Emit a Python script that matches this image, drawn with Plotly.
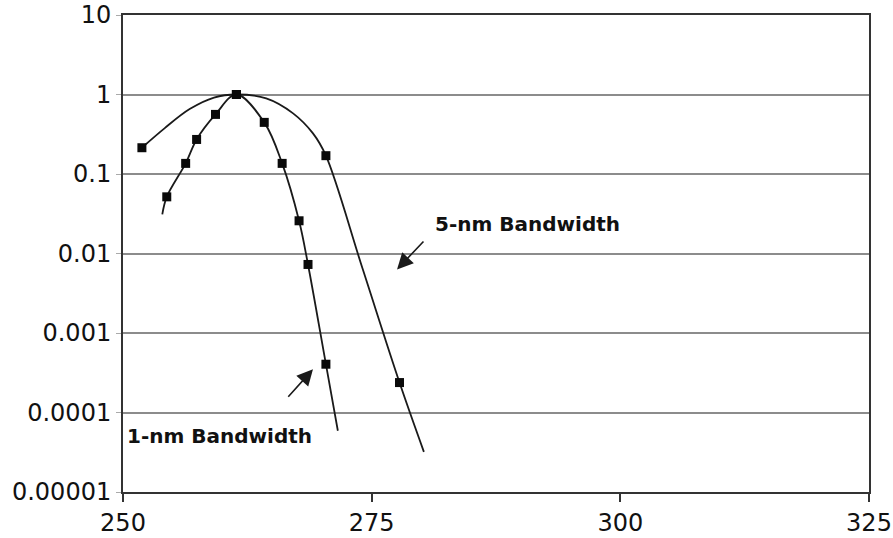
import plotly.graph_objects as go

# Measured relative response vs. wavelength (nm)
bw5_x = [251.9, 261.4, 270.4, 277.8]
bw5_y = [0.214, 1.0, 0.170, 0.000238]

bw1_x = [254.4, 256.3, 257.4, 259.3, 261.4, 264.2, 266.0, 267.7, 268.6, 270.4]
bw1_y = [0.0516, 0.136, 0.272, 0.562, 1.0, 0.446, 0.136, 0.0258, 0.00728, 0.000405]

# Smoothed curves (traced samples, including the run-out past the last points)
bw5_curve_x = [251.9, 254.2, 256.7, 259.15, 261.4, 264.4, 267.1, 269.1, 270.4, 274.1, 277.8, 280.25]
bw5_curve_y = [0.214, 0.378, 0.656, 0.916, 1.0, 0.894, 0.579, 0.324, 0.170, 0.00637, 0.000238, 3.2e-5]

bw1_curve_x = [253.95] + bw1_x + [271.6]
bw1_curve_y = [0.031] + bw1_y + [5.9e-5]

x_ticks = [250, 275, 300, 325]
y_ticks = [10, 1, 0.1, 0.01, 0.001, 0.0001, 0.00001]
y_tick_text = ["10", "1", "0.1", "0.01", "0.001", "0.0001", "0.00001"]

line_color = "#1a1a1a"
font_family = "DejaVu Sans, Arial, sans-serif"

fig = go.Figure()
for lx, ly in [(bw5_curve_x, bw5_curve_y), (bw1_curve_x, bw1_curve_y)]:
    fig.add_trace(go.Scatter(
        x=lx, y=ly, mode="lines",
        line=dict(color=line_color, width=1.8, shape="spline", smoothing=1.0),
        showlegend=False, hoverinfo="skip"))
for mx, my in [(bw5_x, bw5_y), (bw1_x, bw1_y)]:
    fig.add_trace(go.Scatter(
        x=mx, y=my, mode="markers",
        marker=dict(symbol="square", size=9, color="#0a0a0a"),
        showlegend=False))

label_font = dict(family=font_family, size=20, color="#111111")
fig.add_annotation(x=290.65, y=-1.63, xref="x", yref="y", text="<b>5-nm Bandwidth</b>",
                   showarrow=False, font=label_font, xanchor="center", yanchor="middle")
fig.add_annotation(x=259.75, y=-4.30, xref="x", yref="y", text="<b>1-nm Bandwidth</b>",
                   showarrow=False, font=label_font, xanchor="center", yanchor="middle")

# Pointer arrows
for tip, tail in [((277.55, -2.20), (280.35, -1.83)), ((269.1, -3.456), (266.48, -3.82))]:
    fig.add_annotation(x=tip[0], y=tip[1], ax=tail[0], ay=tail[1],
                       xref="x", yref="y", axref="x", ayref="y", text="",
                       showarrow=True, arrowhead=2, arrowsize=2, arrowwidth=1.6,
                       arrowcolor=line_color)

fig.update_xaxes(
    range=[250, 325], tickvals=x_ticks, ticktext=[str(v) for v in x_ticks],
    showgrid=False, zeroline=False, automargin=False,
    showline=True, linecolor="#333333", linewidth=2, mirror=True,
    ticks="outside", ticklen=8, tickwidth=1.5, tickcolor="#333333",
    tickfont=dict(family=font_family, size=24, color="#111111"))
fig.update_yaxes(
    type="log", range=[-5, 1], tickvals=y_ticks, ticktext=y_tick_text,
    showgrid=True, gridcolor="#8c8c8c", gridwidth=1.5, zeroline=False, automargin=False,
    showline=True, linecolor="#333333", linewidth=2, mirror=True,
    ticks="outside", ticklen=5, tickwidth=1, tickcolor="#aaaaaa",
    tickfont=dict(family=font_family, size=24, color="#111111"))

fig.update_layout(
    width=893, height=538,
    margin=dict(l=123, r=24, t=15, b=46),
    paper_bgcolor="white", plot_bgcolor="white")

fig.write_html("out.html")
